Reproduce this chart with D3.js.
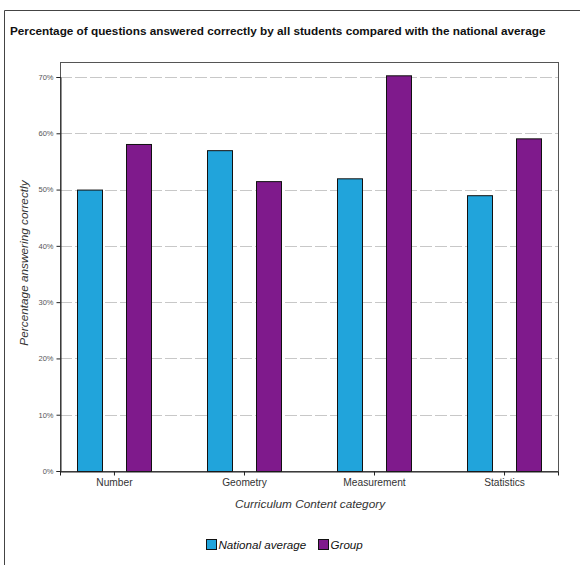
<!DOCTYPE html>
<html><head><meta charset="utf-8">
<script src="https://cdn.jsdelivr.net/npm/d3@7"></script>
<style>body{margin:0;background:#fff}svg{display:block;font-family:"Liberation Sans",Arial,sans-serif}</style>
</head><body><svg id="c" width="580" height="565"></svg>
<script>
const categories = ["Number", "Geometry", "Measurement", "Statistics"];
const seriesNames = ["National average", "Group"];
const nationalAverage = [50, 57, 52, 49];
const group = [58.1, 51.5, 70.3, 59.1];
const yTicks = [0, 10, 20, 30, 40, 50, 60, 70];
const colors = ["#21a4db", "#7f1a8c"];

const svg = d3.select("#c");
const L = 60, R = 558, T = 62, B = 471;
// outer frame
svg.append("path").attr("d", "M4.5,565 V10.5 H580").attr("fill", "none").attr("stroke", "#444").attr("stroke-width", 1);
svg.append("text").attr("x", 10).attr("y", 35).attr("font-size", 11.75).attr("font-weight", "bold").attr("fill", "#111")
  .text("Percentage of questions answered correctly by all students compared with the national average");

const y = d3.scaleLinear().domain([0, 70]).range([B, 77]);
const x = d3.scalePoint().domain(categories).range([L, R]).padding(0.415);
const bw = 25, off = 24.5;

// gridlines
svg.append("g").selectAll("line").data(yTicks.filter(d => d > 0)).join("line")
  .attr("x1", L).attr("x2", R).attr("y1", d => Math.round(y(d)) + 0.5).attr("y2", d => Math.round(y(d)) + 0.5)
  .attr("stroke", "#c8c8c8").attr("stroke-width", 1).attr("stroke-dasharray", "12,3");

// plot box
svg.append("rect").attr("x", L + 0.5).attr("y", T + 0.5).attr("width", R - L).attr("height", B - T)
  .attr("fill", "none").attr("stroke", "#555").attr("stroke-width", 1);

const data = [nationalAverage, group];
data.forEach((vals, si) => {
  svg.append("g").selectAll("rect").data(categories).join("rect")
    .attr("x", (c) => Math.round(x(c) + (si === 0 ? -off : off) - bw / 2) + 0.5)
    .attr("y", (c, i) => y(vals[i]) + 0.5)
    .attr("width", bw).attr("height", (c, i) => B - y(vals[i]))
    .attr("fill", colors[si]).attr("stroke", "#111").attr("stroke-width", 1);
});

// axes
const ya = svg.append("g").attr("transform", `translate(${L + 0.5},0)`)
  .call(d3.axisLeft(y).tickValues(yTicks).tickSize(4).tickFormat(d => d + "%"));
ya.select(".domain").attr("stroke", "#222");
ya.selectAll(".tick line").attr("stroke", "#222");
ya.selectAll("text").attr("font-size", 7.5).attr("fill", "#555").attr("font-family", "Liberation Sans, Arial, sans-serif").attr("x", -7);

const xa = svg.append("g").attr("transform", `translate(0,${B + 0.5})`)
  .call(d3.axisBottom(x).tickSize(4).tickPadding(3));
xa.select(".domain").attr("stroke", "#222");
xa.selectAll(".tick line").attr("stroke", "#222");
xa.selectAll("text").attr("font-size", 10.2).attr("fill", "#333").attr("font-family", "Liberation Sans, Arial, sans-serif");

svg.append("text").attr("x", 310).attr("y", 508).attr("text-anchor", "middle").attr("font-size", 11.8).attr("font-style", "italic").attr("fill", "#333")
  .text("Curriculum Content category");
svg.append("text").attr("transform", "translate(28,263) rotate(-90)").attr("text-anchor", "middle").attr("font-size", 11.8).attr("font-style", "italic").attr("fill", "#333")
  .text("Percentage answering correctly");

// legend
const legX = [206, 318];
const lg = svg.append("g");
seriesNames.forEach((n, i) => {
  lg.append("rect").attr("x", legX[i] + 0.5).attr("y", 539.5).attr("width", 10).attr("height", 10)
    .attr("fill", colors[i]).attr("stroke", "#111");
  lg.append("text").attr("x", legX[i] + 12.5).attr("y", 548.5).attr("font-size", 11.6).attr("font-style", "italic").attr("fill", "#111").text(n);
});
</script></body></html>
